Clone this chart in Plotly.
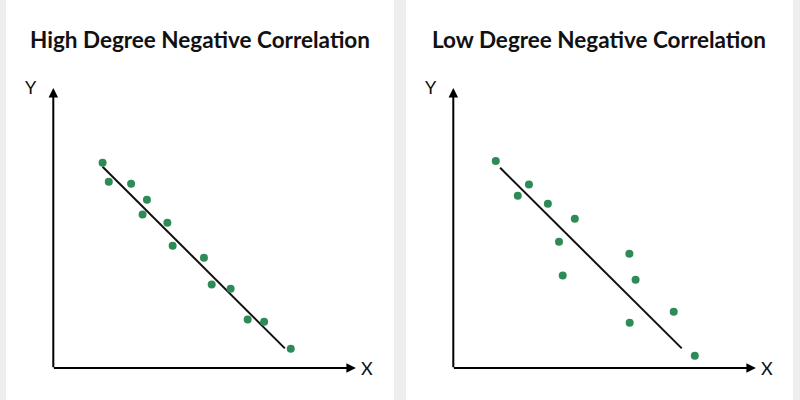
import plotly.graph_objects as go

# ---- data (conceptual units, 0-10 on each axis) ----
titles = ["High Degree Negative Correlation", "Low Degree Negative Correlation"]

high_x = [1.59, 1.79, 2.51, 3.02, 2.88, 3.68, 3.85, 4.86, 5.11, 5.72, 6.27, 6.80, 7.66]
high_y = [7.33, 6.65, 6.58, 6.01, 5.48, 5.19, 4.37, 3.94, 2.98, 2.83, 1.73, 1.65, 0.69]
high_line_x = [1.59, 7.47]
high_line_y = [7.19, 0.70]

low_x = [1.37, 2.08, 2.44, 3.05, 3.92, 3.41, 3.53, 5.68, 5.88, 5.69, 7.11, 7.79]
low_y = [7.39, 6.15, 6.55, 5.87, 5.33, 4.51, 3.30, 4.08, 3.15, 1.62, 2.01, 0.44]
low_line_x = [1.51, 7.37]
low_line_y = [7.15, 0.70]

axis_x_end = 9.76
axis_y_end = 10.0

DOT = "#2e8b57"
INK = "#111111"
W, H = 800, 400
PX_X, PX_Y = 31.0, 28.0          # pixels per unit
XR = [-1.0, 10.5]
YR = [-0.5, 10.5]

fig = go.Figure()

panels = [
    dict(xs=high_x, ys=high_y, lx=high_line_x, ly=high_line_y, xa="x", ya="y",
         ox=53.3, title_cx=200),
    dict(xs=low_x, ys=low_y, lx=low_line_x, ly=low_line_y, xa="x2", ya="y2",
         ox=453.3, title_cx=599),
]
OY = 368.0

def xdom(ox):
    return [(ox + XR[0] * PX_X) / W, (ox + XR[1] * PX_X) / W]

dom_y = [(H - (OY - YR[0] * PX_Y)) / H, (H - (OY - YR[1] * PX_Y)) / H]

shapes = []
annotations = []

# cards
for x0, x1 in [(6, 394), (406, 793)]:
    shapes.append(dict(type="rect", xref="paper", yref="paper",
                       x0=x0 / W, x1=x1 / W, y0=0, y1=1,
                       fillcolor="white", line=dict(width=0), layer="below"))

for i, p in enumerate(panels):
    fig.add_trace(go.Scatter(x=p["lx"], y=p["ly"], mode="lines",
                             line=dict(color=INK, width=2),
                             xaxis=p["xa"], yaxis=p["ya"], hoverinfo="skip",
                             showlegend=False, cliponaxis=False))
    fig.add_trace(go.Scatter(x=p["xs"], y=p["ys"], mode="markers",
                             marker=dict(color=DOT, size=8, line=dict(width=0)),
                             xaxis=p["xa"], yaxis=p["ya"],
                             showlegend=False, cliponaxis=False))
    xr, yr = p["xa"], p["ya"]
    # axis arrows
    annotations.append(dict(x=axis_x_end, y=0, ax=-0.03, ay=0, xref=xr, yref=yr,
                            axref=xr, ayref=yr, showarrow=True, arrowhead=2,
                            arrowsize=0.95, arrowwidth=2, arrowcolor="black", text=""))
    annotations.append(dict(x=0, y=axis_y_end, ax=0, ay=-0.03, xref=xr, yref=yr,
                            axref=xr, ayref=yr, showarrow=True, arrowhead=2,
                            arrowsize=0.95, arrowwidth=2, arrowcolor="black", text=""))
    annotations.append(dict(x=10.12, y=0, xref=xr, yref=yr, text="X", showarrow=False,
                            xanchor="center", yanchor="middle",
                            font=dict(family="Lato, sans-serif", size=18, color=INK)))
    annotations.append(dict(x=-0.72, y=10.04, xref=xr, yref=yr, text="Y", showarrow=False,
                            xanchor="center", yanchor="middle",
                            font=dict(family="Lato, sans-serif", size=18, color=INK)))
    annotations.append(dict(x=p["title_cx"] / W, y=(H - 40) / H, xref="paper", yref="paper",
                            xanchor="center", yanchor="middle",
                            text="<b>" + titles[i] + "</b>", showarrow=False,
                            font=dict(family="Lato, sans-serif", size=22.5, color=INK)))

ax_common = dict(visible=False, fixedrange=True, showgrid=False, zeroline=False)
fig.update_layout(
    width=W, height=H, margin=dict(l=0, r=0, t=0, b=0),
    paper_bgcolor="#eeeeee", plot_bgcolor="rgba(0,0,0,0)",
    xaxis=dict(domain=xdom(panels[0]["ox"]), range=XR, **ax_common),
    yaxis=dict(domain=dom_y, range=YR, **ax_common),
    xaxis2=dict(domain=xdom(panels[1]["ox"]), range=XR, anchor="y2", **ax_common),
    yaxis2=dict(domain=dom_y, range=YR, anchor="x2", **ax_common),
    shapes=shapes, annotations=annotations, showlegend=False,
)

fig.write_html("out.html")
